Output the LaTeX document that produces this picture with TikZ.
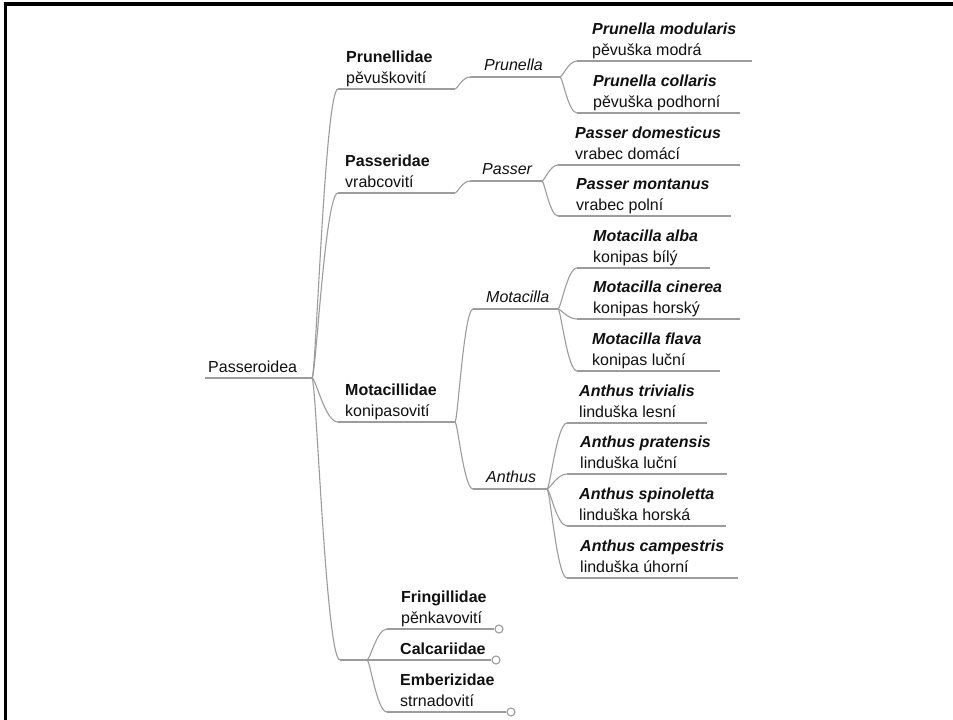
\documentclass[tikz,border=0pt]{standalone}
\usepackage{fontspec}
\setmainfont{Liberation Sans}
\usetikzlibrary{calc}
\definecolor{lg}{HTML}{9C9C9C}
\definecolor{tx}{HTML}{111111}
\newcommand\tline[4]{%
  \coordinate (#1-s) at (#2,#4);
  \coordinate (#1-e) at (#3,#4);
  \draw[br] (#1-s) -- (#1-e);}
\begin{document}
\begin{tikzpicture}[x=1pt,y=-1pt,
  br/.style={draw=lg, line width=1.1pt},
  conn/.style={br, to path={.. controls ($(\tikztostart)!0.15!(\tikztostart -| \tikztotarget)$) and ($(\tikztotarget)!0.5!(\tikztotarget -| \tikztostart)$) .. (\tikztotarget)}},
  lbl/.style={anchor=base west, inner sep=0pt, text=tx, font=\fontsize{16}{19}\selectfont},
  fam/.style={lbl, font=\fontsize{16}{19}\selectfont\bfseries},
  gen/.style={lbl, font=\fontsize{16}{19}\selectfont\itshape},
  spc/.style={lbl, font=\fontsize{16}{19}\selectfont\bfseries\itshape},
  endc/.style={circle, draw=lg, fill=white, line width=1.1pt, inner sep=0pt, minimum size=8pt}
]
\useasboundingbox (0,0) rectangle (953,720);
\fill[white] (0,0) rectangle (953,720);
\draw[line width=3.5pt, line join=miter] (5.5,720) -- (5.5,4) -- (953,4);

% root
\tline{root}{205}{312}{378}
\node[lbl] (rootT) at (208,372) {Passeroidea};

% families
\tline{pru}{338}{455}{89}
\node[fam] (pruA) at (346,62) {Prunellidae};
\node[lbl] (pruB) at (346,83) {pěvuškovití};
\tline{pas}{338}{455}{193}
\node[fam] (pasA) at (345,166) {Passeridae};
\node[lbl] (pasB) at (345,187) {vrabcovití};
\tline{mot}{338}{455}{422}
\node[fam] (motA) at (345,395) {Motacillidae};
\node[lbl] (motB) at (345,416) {konipasovití};

% bottom group
\coordinate (grp-s) at (340,660);
\coordinate (grp-j) at (367,660);
\draw[br] (grp-s) -- (grp-j);
\coordinate (fri-s) at (387,629);
\node[endc] (fri-c) at (499,629) {};
\draw[br] (fri-s) -- (fri-c.west);
\node[fam] (friA) at (401,602) {Fringillidae};
\node[lbl] (friB) at (401,623) {pěnkavovití};
\node[endc] (cal-c) at (496,660) {};
\draw[br] (grp-j) -- (cal-c.west);
\node[fam] (calA) at (400,654) {Calcariidae};
\coordinate (emb-s) at (387,712);
\node[endc] (emb-c) at (511,712) {};
\draw[br] (emb-s) -- (emb-c.west);
\node[fam] (embA) at (400,685) {Emberizidae};
\node[lbl] (embB) at (400,706) {strnadovití};

% genera
\tline{gpru}{470}{560}{77}
\node[gen] (gpruT) at (484,70) {Prunella};
\tline{gpas}{470}{542}{181}
\node[gen] (gpasT) at (482,174) {Passer};
\tline{gmot}{473}{558}{309}
\node[gen] (gmotT) at (486,302) {Motacilla};
\tline{gant}{473}{547}{489}
\node[gen] (gantT) at (486,482) {Anthus};

% species
\tline{pmod}{577}{752}{61}
\node[spc] (pmodA) at (592,34) {Prunella modularis};
\node[lbl] (pmodB) at (592,55) {pěvuška modrá};
\tline{pcol}{577}{740}{113}
\node[spc] (pcolA) at (593,86) {Prunella collaris};
\node[lbl] (pcolB) at (593,107) {pěvuška podhorní};
\tline{pdom}{558}{740}{165}
\node[spc] (pdomA) at (575,138) {Passer domesticus};
\node[lbl] (pdomB) at (575,159) {vrabec domácí};
\tline{pmon}{558}{731}{216}
\node[spc] (pmonA) at (576,189) {Passer montanus};
\node[lbl] (pmonB) at (576,210) {vrabec polní};
\tline{malb}{577}{710}{268}
\node[spc] (malbA) at (593,241) {Motacilla alba};
\node[lbl] (malbB) at (593,262) {konipas bílý};
\tline{mcin}{577}{740}{319}
\node[spc] (mcinA) at (593,292) {Motacilla cinerea};
\node[lbl] (mcinB) at (593,313) {konipas horský};
\tline{mfla}{577}{720}{371}
\node[spc] (mflaA) at (592,344) {Motacilla flava};
\node[lbl] (mflaB) at (592,365) {konipas luční};
\tline{atri}{567}{707}{423}
\node[spc] (atriA) at (579,396) {Anthus trivialis};
\node[lbl] (atriB) at (579,417) {linduška lesní};
\tline{apra}{567}{727}{474}
\node[spc] (apraA) at (580,447) {Anthus pratensis};
\node[lbl] (apraB) at (580,468) {linduška luční};
\tline{aspi}{567}{726}{526}
\node[spc] (aspiA) at (579,499) {Anthus spinoletta};
\node[lbl] (aspiB) at (579,520) {linduška horská};
\tline{acam}{567}{738}{578}
\node[spc] (acamA) at (580,551) {Anthus campestris};
\node[lbl] (acamB) at (580,572) {linduška úhorní};

% connectors
\foreach \t in {pru-s,pas-s,mot-s,grp-s} \draw[conn] (root-e) to (\t);
\foreach \t in {fri-s,emb-s} \draw[conn] (grp-j) to (\t);
\draw[conn] (pru-e) to (gpru-s);
\draw[conn] (pas-e) to (gpas-s);
\draw[conn] (mot-e) to (gmot-s);
\draw[conn] (mot-e) to (gant-s);
\foreach \t in {pmod-s,pcol-s} \draw[conn] (gpru-e) to (\t);
\foreach \t in {pdom-s,pmon-s} \draw[conn] (gpas-e) to (\t);
\foreach \t in {malb-s,mcin-s,mfla-s} \draw[conn] (gmot-e) to (\t);
\foreach \t in {atri-s,apra-s,aspi-s,acam-s} \draw[conn] (gant-e) to (\t);
\end{tikzpicture}
\end{document}
